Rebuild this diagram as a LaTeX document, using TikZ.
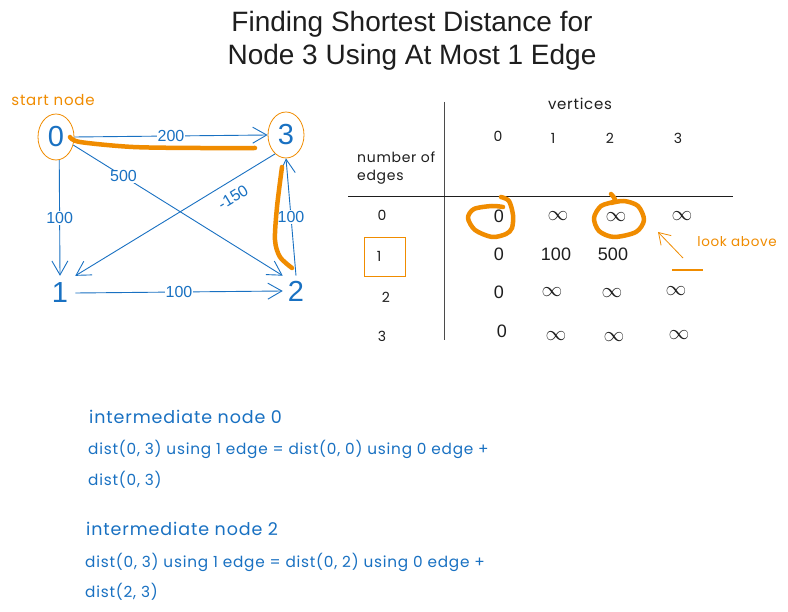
\documentclass[tikz,border=0pt]{standalone}
\usepackage{fontspec}
\setmainfont{Liberation Sans}
\newfontfamily\handfont[LetterSpace=5]{Poppins}
\usetikzlibrary{arrows.meta,shapes.geometric}
\definecolor{eblue}{HTML}{1971C2}
\definecolor{eorange}{HTML}{F08C00}
\definecolor{ink}{HTML}{1E1E1E}
\begin{document}
\begin{tikzpicture}[x=1pt,y=-1pt,
  every node/.style={inner sep=0pt},
  edge/.style={draw=eblue, line width=0.9pt, -{Straight Barb[length=14pt,width=16pt,line width=0.9pt]}},
  elab/.style={fill=white, text=eblue, font=\fontsize{16}{16}\selectfont, inner sep=1pt},
  gnode/.style={text=eblue, font=\fontsize{29}{29}\selectfont},
  ring/.style={draw=eorange, line width=0.8pt, ellipse, minimum width=36pt, minimum height=46pt},
  hl/.style={draw=eorange, line width=4.5pt, line cap=round, line join=round},
  hand/.style={font=\handfont\fontsize{#1}{#1}\selectfont},
  num/.style={text=ink, font=\fontsize{18}{18}\selectfont},
  inf/.style={text=ink, font=\fontsize{22}{22}\selectfont},
  title/.style={text=ink, font=\fontsize{28}{28}\selectfont},
]
\useasboundingbox (0,0) rectangle (788,612);
\fill[white] (0,0) rectangle (788,612);

% title
\node[title] (t1) at (412,24) {Finding Shortest Distance for};
\node[title] (t2) at (412,57) {Node 3 Using At Most 1 Edge};

% graph
\node[hand=15, text=eorange] (sn) at (53,100) {start node};
\node[gnode, ring] (n0) at (56,137) {0};
\node[gnode, ring] (n3) at (286,135) {3};
\node[gnode, inner sep=7pt] (n1) at (60,293) {1};
\node[gnode, inner sep=5pt] (n2) at (296,291) {2};

\draw[edge] (n0.east) -- node[elab]{200} (n3.west);
\draw[edge] (n0.-82) -- node[elab]{100} (n1.north);
\draw[edge] (n0.-25) -- node[elab,pos=0.24]{500} (n2.north west);
\draw[edge] (n3.-120) -- node[text=eblue, font=\fontsize{16}{16}\selectfont, pos=0.25, sloped, below=9pt]{-150} (n1.north east);
\draw[edge] (n1.east) -- node[elab]{100} (n2.west);
\draw[edge] (n2.north) -- node[elab]{100} (n3.south);

\draw[hl] plot[smooth] coordinates {(70,137) (80,142) (133,147) (200,148) (255,148)};
\draw[hl] plot[smooth] coordinates {(282,167) (277,207) (275,240) (280,257) (292,268)};

% table
\draw[ink!80, line width=1pt] (444,102) -- (444,340);
\draw[ink, line width=1pt] (348,197) -- (733,197);
\node[hand=15, text=ink] (vt) at (580,104) {vertices};
\node[hand=14, text=ink] (h0) at (498,136) {0};
\node[hand=14, text=ink] (h1) at (553,138) {1};
\node[hand=14, text=ink] (h2) at (610,138) {2};
\node[hand=14, text=ink] (h3) at (678,138) {3};
\node[hand=14, text=ink, anchor=west] (ne1) at (357,157) {number of};
\node[hand=14, text=ink, anchor=west] (ne2) at (357,177) {edges};
\node[hand=14, text=ink] (r0) at (382,215) {0};
\node[hand=14, text=ink] (r1) at (379,256) {1};
\node[hand=14, text=ink] (r2) at (386,297) {2};
\node[hand=14, text=ink] (r3) at (382,336) {3};
\node[minimum width=40pt, minimum height=38pt] (box1) at (385,257) {};
\draw[eorange, line width=1.3pt] (box1.north west) rectangle (box1.south east);

\node[num] (c00) at (499,216) {0};
\node[inf] (c01) at (558,216) {$\infty$};
\node[inf] (c02) at (616,217) {$\infty$};
\node[inf] (c03) at (682,216) {$\infty$};
\node[num] (c10) at (499,254) {0};
\node[num] (c11) at (556,254) {100};
\node[num] (c12) at (613,254) {500};
\node[num] (c20) at (499,292) {0};
\node[inf] (c21) at (552,292) {$\infty$};
\node[inf] (c22) at (612,293) {$\infty$};
\node[inf] (c23) at (676,291) {$\infty$};
\node[num] (c30) at (502,331) {0};
\node[inf] (c31) at (556,336) {$\infty$};
\node[inf] (c32) at (614,337) {$\infty$};
\node[inf] (c33) at (679,335) {$\infty$};

\draw[hl] plot[smooth] coordinates {(501,197) (509,201) (513,215) (512,228) (506,234) (492,237) (475,230) (468,218) (474,209) (492,206) (503,207)};
\draw[hl] plot[smooth] coordinates {(611,194) (615,201) (601,206) (594,218) (599,231) (614,237) (636,232) (644,220) (638,206) (624,201) (611,203)};

\node[hand=13.5, text=eorange] (la) at (737,242) {look above};
\coordinate (lastart) at (683,258);
\coordinate (latip) at (658,232);
\draw[eorange, line width=0.8pt, -{Straight Barb[length=11pt,width=14pt,line width=0.8pt]}] (lastart) -- (latip);
\coordinate (ul1) at (672,270);
\coordinate (ul2) at (703,270);
\draw[eorange, line width=1.2pt] (ul1) -- (ul2);

% notes
\node[hand=17.5, text=eblue, anchor=west] (in0) at (89,417) {intermediate node 0};
\node[hand=15.3, text=eblue, anchor=west] (d0a) at (88,449) {dist(0, 3) using 1 edge = dist(0, 0) using 0 edge +};
\node[hand=15.3, text=eblue, anchor=west] (d0b) at (88,480) {dist(0, 3)};
\node[hand=17.5, text=eblue, anchor=west] (in2) at (86,529) {intermediate node 2};
\node[hand=15.3, text=eblue, anchor=west] (d2a) at (85,562) {dist(0, 3) using 1 edge = dist(0, 2) using 0 edge +};
\node[hand=15.3, text=eblue, anchor=west] (d2b) at (85,592) {dist(2, 3)};
\end{tikzpicture}
\end{document}
